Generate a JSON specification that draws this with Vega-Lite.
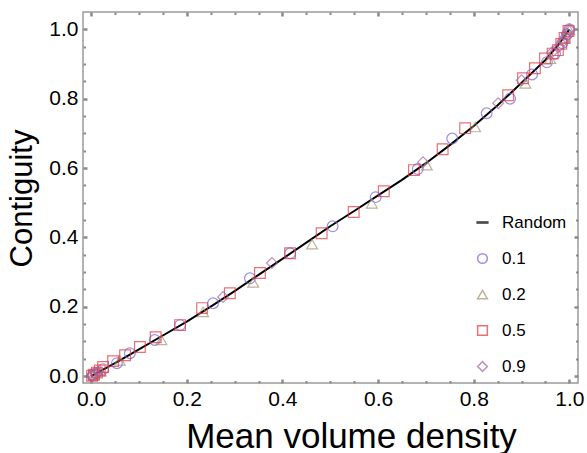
{
  "$schema": "https://vega.github.io/schema/vega-lite/v6.json",
  "width": 495,
  "height": 371,
  "autosize": "none",
  "padding": {"left": 83, "top": 12, "right": 9, "bottom": 70},
  "background": "white",
  "config": {
    "view": {"stroke": "#9a9a9a", "strokeWidth": 1.5},
    "font": "Liberation Sans",
    "axis": {"grid": false, "domain": false, "labelColor": "black", "titleColor": "black", "labelFont": "Liberation Sans", "titleFont": "Liberation Sans", "titleFontWeight": "normal", "tickColor": "#8a8a8a"}
  },
  "datasets": {
    "random": [
      {"x": 0, "y": 0}, {"x": 0.05, "y": 0.037}, {"x": 0.1, "y": 0.077}, {"x": 0.15, "y": 0.117},
      {"x": 0.2, "y": 0.157}, {"x": 0.25, "y": 0.2}, {"x": 0.3, "y": 0.245}, {"x": 0.35, "y": 0.292},
      {"x": 0.4, "y": 0.338}, {"x": 0.45, "y": 0.385}, {"x": 0.5, "y": 0.432}, {"x": 0.55, "y": 0.476},
      {"x": 0.6, "y": 0.521}, {"x": 0.65, "y": 0.566}, {"x": 0.7, "y": 0.614}, {"x": 0.75, "y": 0.666},
      {"x": 0.8, "y": 0.721}, {"x": 0.85, "y": 0.781}, {"x": 0.9, "y": 0.846}, {"x": 0.95, "y": 0.912},
      {"x": 0.975, "y": 0.952}, {"x": 1.0, "y": 1.0}
    ],
    "pts": [
      {"series": "0.1", "x": 0.003, "y": 0.002}, {"series": "0.1", "x": 0.01, "y": 0.008}, {"series": "0.1", "x": 0.025, "y": 0.02},
      {"series": "0.1", "x": 0.054, "y": 0.037}, {"series": "0.1", "x": 0.081, "y": 0.066}, {"series": "0.1", "x": 0.133, "y": 0.104},
      {"series": "0.1", "x": 0.186, "y": 0.147}, {"series": "0.1", "x": 0.255, "y": 0.21}, {"series": "0.1", "x": 0.332, "y": 0.282},
      {"series": "0.1", "x": 0.416, "y": 0.354}, {"series": "0.1", "x": 0.505, "y": 0.432}, {"series": "0.1", "x": 0.595, "y": 0.516},
      {"series": "0.1", "x": 0.683, "y": 0.597}, {"series": "0.1", "x": 0.755, "y": 0.685}, {"series": "0.1", "x": 0.827, "y": 0.758},
      {"series": "0.1", "x": 0.876, "y": 0.8}, {"series": "0.1", "x": 0.922, "y": 0.87}, {"series": "0.1", "x": 0.953, "y": 0.905},
      {"series": "0.1", "x": 0.97, "y": 0.93}, {"series": "0.1", "x": 0.985, "y": 0.96}, {"series": "0.1", "x": 0.995, "y": 0.985},
      {"series": "0.1", "x": 1.0, "y": 1.0},
      {"series": "0.2", "x": 0.005, "y": 0.003}, {"series": "0.2", "x": 0.02, "y": 0.014}, {"series": "0.2", "x": 0.06, "y": 0.045},
      {"series": "0.2", "x": 0.147, "y": 0.104}, {"series": "0.2", "x": 0.234, "y": 0.185}, {"series": "0.2", "x": 0.339, "y": 0.27},
      {"series": "0.2", "x": 0.462, "y": 0.38}, {"series": "0.2", "x": 0.587, "y": 0.498}, {"series": "0.2", "x": 0.702, "y": 0.608},
      {"series": "0.2", "x": 0.803, "y": 0.718}, {"series": "0.2", "x": 0.908, "y": 0.844}, {"series": "0.2", "x": 0.96, "y": 0.915},
      {"series": "0.2", "x": 0.99, "y": 0.975}, {"series": "0.2", "x": 1.0, "y": 0.998},
      {"series": "0.5", "x": 0.002, "y": 0.001}, {"series": "0.5", "x": 0.006, "y": 0.004}, {"series": "0.5", "x": 0.012, "y": 0.01},
      {"series": "0.5", "x": 0.018, "y": 0.016}, {"series": "0.5", "x": 0.025, "y": 0.026},
      {"series": "0.5", "x": 0.046, "y": 0.043}, {"series": "0.5", "x": 0.071, "y": 0.06}, {"series": "0.5", "x": 0.102, "y": 0.084},
      {"series": "0.5", "x": 0.135, "y": 0.112}, {"series": "0.5", "x": 0.186, "y": 0.147}, {"series": "0.5", "x": 0.232, "y": 0.196},
      {"series": "0.5", "x": 0.29, "y": 0.239}, {"series": "0.5", "x": 0.353, "y": 0.297}, {"series": "0.5", "x": 0.416, "y": 0.354},
      {"series": "0.5", "x": 0.482, "y": 0.412}, {"series": "0.5", "x": 0.549, "y": 0.473}, {"series": "0.5", "x": 0.612, "y": 0.533},
      {"series": "0.5", "x": 0.675, "y": 0.594}, {"series": "0.5", "x": 0.735, "y": 0.654}, {"series": "0.5", "x": 0.782, "y": 0.715},
      {"series": "0.5", "x": 0.872, "y": 0.81}, {"series": "0.5", "x": 0.903, "y": 0.859}, {"series": "0.5", "x": 0.928, "y": 0.888},
      {"series": "0.5", "x": 0.949, "y": 0.916}, {"series": "0.5", "x": 0.965, "y": 0.93}, {"series": "0.5", "x": 0.976, "y": 0.94},
      {"series": "0.5", "x": 0.983, "y": 0.958}, {"series": "0.5", "x": 0.99, "y": 0.975}, {"series": "0.5", "x": 0.998, "y": 0.995},
      {"series": "0.9", "x": 0.001, "y": 0.001}, {"series": "0.9", "x": 0.003, "y": 0.003}, {"series": "0.9", "x": 0.008, "y": 0.01},
      {"series": "0.9", "x": 0.015, "y": 0.012},
      {"series": "0.9", "x": 0.276, "y": 0.228}, {"series": "0.9", "x": 0.378, "y": 0.326}, {"series": "0.9", "x": 0.694, "y": 0.617},
      {"series": "0.9", "x": 0.851, "y": 0.787}, {"series": "0.9", "x": 0.9, "y": 0.853}, {"series": "0.9", "x": 0.964, "y": 0.934},
      {"series": "0.9", "x": 0.978, "y": 0.95}, {"series": "0.9", "x": 0.987, "y": 0.965}, {"series": "0.9", "x": 0.992, "y": 0.978},
      {"series": "0.9", "x": 0.995, "y": 0.988}, {"series": "0.9", "x": 1.0, "y": 1.0}
    ]
  },
  "layer": [
    {
      "data": {"name": "random"},
      "mark": {"type": "line", "color": "black", "strokeWidth": 2},
      "encoding": {
        "x": {"field": "x", "type": "quantitative", "scale": {"domain": [-0.017, 1.018], "nice": false, "zero": false},
          "axis": {"orient": "bottom", "offset": -4, "title": "Mean volume density", "values": [0, 0.2, 0.4, 0.6, 0.8, 1.0], "format": ".1f",
            "tickSize": 4, "tickWidth": 2.5, "labelFontSize": 21, "labelPadding": 5, "labelFlush": false,
            "titleFontSize": 35, "titleX": 268, "titleY": 68, "titleBaseline": "alphabetic", "titleAnchor": "middle", "titleAlign": "center"}},
        "y": {"field": "y", "type": "quantitative", "scale": {"domain": [-0.02, 1.05], "nice": false, "zero": false},
          "axis": {"orient": "left", "offset": -4, "title": "Contiguity", "values": [0, 0.2, 0.4, 0.6, 0.8, 1.0], "format": ".1f",
            "tickSize": 4, "tickWidth": 2.5, "labelFontSize": 21, "labelPadding": 5, "labelFlush": false,
            "titleFontSize": 31, "titleX": -65, "titleY": 186, "titleBaseline": "middle", "titleAlign": "center", "titleAngle": -90}}
      }
    },
    {
      "data": {"name": "pts"},
      "mark": {"type": "point", "filled": false, "strokeWidth": 1.2, "size": 115},
      "encoding": {
        "x": {"field": "x", "type": "quantitative",
          "axis": {"orient": "bottom", "offset": -2.5, "title": null, "labels": false, "values": [0.05, 0.1, 0.15, 0.25, 0.3, 0.35, 0.45, 0.5, 0.55, 0.65, 0.7, 0.75, 0.85, 0.9, 0.95],
            "tickSize": 2.5, "tickWidth": 2}},
        "y": {"field": "y", "type": "quantitative",
          "axis": {"orient": "left", "offset": -2.5, "title": null, "labels": false, "values": [0.05, 0.1, 0.15, 0.25, 0.3, 0.35, 0.45, 0.5, 0.55, 0.65, 0.7, 0.75, 0.85, 0.9, 0.95],
            "tickSize": 2.5, "tickWidth": 2}},
        "color": {"field": "series", "type": "nominal",
          "scale": {"domain": ["Random", "0.1", "0.2", "0.5", "0.9"], "range": ["black", "#6e64dc", "#a39271", "#e2353c", "#a3649f"]},
          "legend": {"title": null, "orient": "none", "legendX": 391, "legendY": 202, "labelFontSize": 17, "labelFont": "Liberation Sans", "labelColor": "black",
            "symbolSize": 95, "symbolStrokeWidth": 1.5, "rowPadding": 18, "labelOffset": 11, "padding": 0}},
        "shape": {"field": "series", "type": "nominal",
          "scale": {"domain": ["Random", "0.1", "0.2", "0.5", "0.9"], "range": ["M-1.1,-0.12L1.1,-0.12L1.1,0.12L-1.1,0.12Z", "circle", "triangle-up", "square", "diamond"]}}
      }
    },
    {
      "data": {"name": "random"},
      "mark": {"type": "point", "opacity": 0},
      "encoding": {
        "x": {"field": "x", "type": "quantitative",
          "axis": {"orient": "top", "offset": -4, "title": null, "labels": false, "values": [0, 0.2, 0.4, 0.6, 0.8, 1.0], "tickSize": 4, "tickWidth": 2.5}},
        "y": {"field": "y", "type": "quantitative",
          "axis": {"orient": "right", "offset": -4, "title": null, "labels": false, "values": [0, 0.2, 0.4, 0.6, 0.8, 1.0], "tickSize": 4, "tickWidth": 2.5}}
      }
    },
    {
      "data": {"name": "random"},
      "mark": {"type": "point", "opacity": 0},
      "encoding": {
        "x": {"field": "x", "type": "quantitative",
          "axis": {"orient": "top", "offset": -2.5, "title": null, "labels": false, "values": [0.05, 0.1, 0.15, 0.25, 0.3, 0.35, 0.45, 0.5, 0.55, 0.65, 0.7, 0.75, 0.85, 0.9, 0.95], "tickSize": 2.5, "tickWidth": 2}},
        "y": {"field": "y", "type": "quantitative",
          "axis": {"orient": "right", "offset": -2.5, "title": null, "labels": false, "values": [0.05, 0.1, 0.15, 0.25, 0.3, 0.35, 0.45, 0.5, 0.55, 0.65, 0.7, 0.75, 0.85, 0.9, 0.95], "tickSize": 2.5, "tickWidth": 2}}
      }
    }
  ],
  "resolve": {"scale": {"x": "shared", "y": "shared"}, "axis": {"x": "independent", "y": "independent"}}
}
